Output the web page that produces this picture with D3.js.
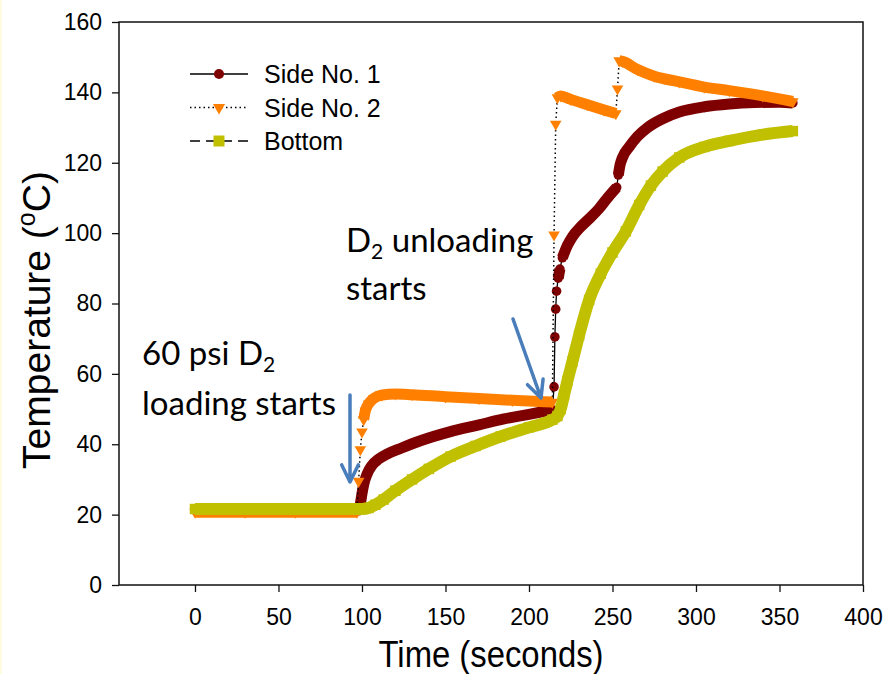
<!DOCTYPE html>
<html>
<head>
<meta charset="utf-8">
<script src="https://cdn.jsdelivr.net/npm/d3@7"></script>
<style>
  body { margin: 0; background: #fff; }
  svg { display: block; }
</style>
</head>
<body>
<svg id="chart" width="888" height="674"></svg>
<script>
// data (time in s, temperature in degC)
const side1Time = [0, 30, 60, 98, 99, 100, 101, 103, 106, 110, 115, 123, 135, 153, 170, 185, 200, 214,
  215, 215.5, 216, 216.5, 217.5, 218.5, 220, 223, 226, 231, 236.5, 242, 247, 252.5,
  253.5, 254.5, 256, 260, 265, 271, 280, 290, 305, 320, 335, 350, 358];
const side1Temp = [21.3, 21.3, 21.3, 21.3, 23, 26, 28.5, 31.5, 34, 35.8, 37.2, 38.8, 41, 43.6, 45.5, 47.2, 48.5, 49.8,
  56.3, 70.5, 78.4, 83.5, 87.2, 89.8, 93, 96.5, 99, 101.8, 104.3, 107, 110, 113,
  116.5, 119.3, 121.5, 124.5, 127.5, 130, 132.5, 134.4, 135.9, 136.7, 137.1, 137.2, 137];

const side2Time = [0, 30, 60, 97, 98, 99, 100, 101, 102, 104, 107, 112, 120, 130, 150, 170, 190, 214,
  215, 216, 217, 219, 225, 235, 245, 252, 253, 254, 256, 265, 275, 290, 305, 320, 340, 358];
const side2Temp = [20.7, 20.7, 20.7, 20.7, 29.5, 38.5, 43.5, 47, 49.5, 51.5, 53, 54, 54.3, 54.1, 53.5, 53, 52.5, 52,
  99.5, 131, 138.5, 139, 138, 136.5, 135, 134, 141, 149, 148.8, 146.5, 144.6, 143, 141.5, 140.5, 139, 137.4];

const bottomTime = [0, 30, 60, 100, 104, 108, 113, 120, 130, 140, 153, 168, 183, 200, 214, 217, 219, 221, 223,
  226, 230, 236, 243, 250, 258, 266, 273, 280, 290, 305, 320, 340, 358];
const bottomTemp = [21.6, 21.6, 21.6, 21.6, 21.9, 22.8, 24.3, 26.8, 30, 33, 36.5, 39.5, 42.2, 44.8, 47, 48, 50, 54, 58,
  63.5, 71, 81, 88.5, 94.5, 100.5, 108, 113.5, 117.5, 121.5, 124.5, 126.2, 128, 129];

const seriesNames = ["Side No. 1", "Side No. 2", "Bottom"];
const xTicks = [0, 50, 100, 150, 200, 250, 300, 350, 400];
const yTicks = [0, 20, 40, 60, 80, 100, 120, 140, 160];

const svg = d3.select("#chart");
const FONT = "Arial, 'Liberation Sans', sans-serif";

const x = d3.scaleLinear().domain([-45.5, 400]).range([119, 863]);
const y = d3.scaleLinear().domain([0, 160]).range([585, 22]);

svg.append("rect").attr("width", 888).attr("height", 674).attr("fill", "#fff");
svg.append("rect").attr("width", 2).attr("height", 674).attr("fill", "#fffbe0");

// frame
svg.append("rect")
  .attr("x", x.range()[0]).attr("y", y.range()[1])
  .attr("width", x.range()[1] - x.range()[0])
  .attr("height", y.range()[0] - y.range()[1])
  .attr("fill", "none").attr("stroke", "#111").attr("stroke-width", 1.5);

const yAxis = svg.append("g")
  .attr("transform", "translate(" + x.range()[0] + ",0)")
  .call(d3.axisLeft(y).tickValues(yTicks).tickSize(7).tickPadding(10));
const xAxis = svg.append("g")
  .attr("transform", "translate(0," + y.range()[0] + ")")
  .call(d3.axisBottom(x).tickValues(xTicks).tickSize(7).tickPadding(17));
[xAxis, yAxis].forEach(a => {
  a.select(".domain").remove();
  a.selectAll("line").attr("stroke", "#111").attr("stroke-width", 1.3);
  a.selectAll("text").attr("font-family", FONT).attr("font-size", 23).attr("fill", "#000");
});

// axis titles
svg.append("text")
  .attr("x", 491).attr("y", 667)
  .attr("text-anchor", "middle")
  .attr("font-family", FONT).attr("font-size", 36)
  .attr("textLength", 225).attr("lengthAdjust", "spacingAndGlyphs")
  .text("Time (seconds)");

const yTitle = svg.append("text")
  .attr("transform", "translate(50,320) rotate(-90)")
  .attr("text-anchor", "middle")
  .attr("font-family", FONT).attr("font-size", 39);
yTitle.append("tspan").text("Temperature (");
yTitle.append("tspan").attr("font-size", 25).attr("dy", -15).text("o");
yTitle.append("tspan").attr("dy", 15).text("C)");

// series
const series = [
  {name: seriesNames[0], t: side1Time, v: side1Temp, color: "#7f0000", band: 11,
   symbol: d3.symbolCircle, size: 72, rot: 0, dash: null, lineW: 1.3},
  {name: seriesNames[1], t: side2Time, v: side2Temp, color: "#ff8000", band: 11,
   symbol: d3.symbolTriangle, size: 58, rot: 180, dash: "1.5,3", lineW: 1.5},
  {name: seriesNames[2], t: bottomTime, v: bottomTemp, color: "#c0c000", band: 12,
   symbol: d3.symbolSquare, size: 110, rot: 0, dash: "10,6", lineW: 1.3}
];

// split where the reading jumps within a second or so
function segments(ts, vs) {
  const segs = [];
  let cur = [[ts[0], vs[0]]];
  for (let i = 1; i < ts.length; i++) {
    if (ts[i] - ts[i - 1] <= 1.5 && Math.abs(vs[i] - vs[i - 1]) > 3.2) {
      segs.push(cur);
      cur = [];
    }
    cur.push([ts[i], vs[i]]);
  }
  segs.push(cur);
  return segs.filter(s => s.length > 1);
}

const thin = d3.line().x(d => x(d[0])).y(d => y(d[1]));
const thick = d3.line().x(d => x(d[0])).y(d => y(d[1])).curve(d3.curveMonotoneX);

series.forEach(s => {
  const pts = s.t.map((t, i) => [t, s.v[i]]);
  const g = svg.append("g");
  g.append("path")
    .attr("d", thin(pts))
    .attr("fill", "none").attr("stroke", "#000")
    .attr("stroke-width", s.lineW)
    .attr("stroke-dasharray", s.dash);
  g.selectAll("path.band")
    .data(segments(s.t, s.v))
    .join("path")
    .attr("class", "band")
    .attr("d", thick)
    .attr("fill", "none").attr("stroke", s.color)
    .attr("stroke-width", s.band);
  g.selectAll("path.mk")
    .data(pts)
    .join("path")
    .attr("class", "mk")
    .attr("d", d3.symbol(s.symbol, s.size))
    .attr("transform", d => "translate(" + x(d[0]) + "," + y(d[1]) + ") rotate(" + s.rot + ")")
    .attr("fill", s.color);
});

// legend
const legend = svg.append("g");
series.forEach((s, i) => {
  const ly = 74 + i * 33.5;
  legend.append("line")
    .attr("x1", 190).attr("x2", 248).attr("y1", ly).attr("y2", ly)
    .attr("stroke", "#000").attr("stroke-width", s.lineW)
    .attr("stroke-dasharray", s.dash);
  legend.append("path")
    .attr("d", d3.symbol(s.symbol, s.size * 1.1))
    .attr("transform", "translate(219," + ly + ") rotate(" + s.rot + ")")
    .attr("fill", s.color);
  legend.append("text")
    .attr("x", 264).attr("y", ly + 9)
    .attr("font-family", FONT).attr("font-size", 25)
    .text(s.name);
});

// annotations
const ANN = "Lato, 'Open Sans', sans-serif";
function annot(xp, yp, parts) {
  const t = svg.append("text")
    .attr("x", xp).attr("y", yp)
    .attr("font-family", ANN).attr("font-size", 33).attr("fill", "#000");
  parts.forEach(p => {
    t.append("tspan")
      .attr("font-size", p.sub ? 21 : 33)
      .attr("dy", p.dy || 0)
      .text(p.text);
  });
}
annot(142, 365, [{text: "60 psi D"}, {text: "2", sub: true, dy: 7}]);
annot(142, 415, [{text: "loading starts"}]);
annot(346, 252, [{text: "D"}, {text: "2", sub: true, dy: 7}, {text: " unloading", dy: -7}]);
annot(346, 300, [{text: "starts"}]);

// arrows
const arrowColor = "#4a7ebb";
function arrow(x1, y1, x2, y2) {
  const a = Math.atan2(y2 - y1, x2 - x1);
  const hl = 19, ha = 0.45;
  const p = d3.path();
  p.moveTo(x1, y1); p.lineTo(x2, y2);
  p.moveTo(x2 - hl * Math.cos(a - ha), y2 - hl * Math.sin(a - ha));
  p.lineTo(x2, y2);
  p.lineTo(x2 - hl * Math.cos(a + ha), y2 - hl * Math.sin(a + ha));
  svg.append("path").attr("d", p.toString())
    .attr("fill", "none").attr("stroke", arrowColor)
    .attr("stroke-width", 3.5).attr("stroke-linecap", "round").attr("stroke-linejoin", "round");
}
arrow(350, 395, 350, 482);
arrow(513, 319, 541, 398);
</script>
</body>
</html>
